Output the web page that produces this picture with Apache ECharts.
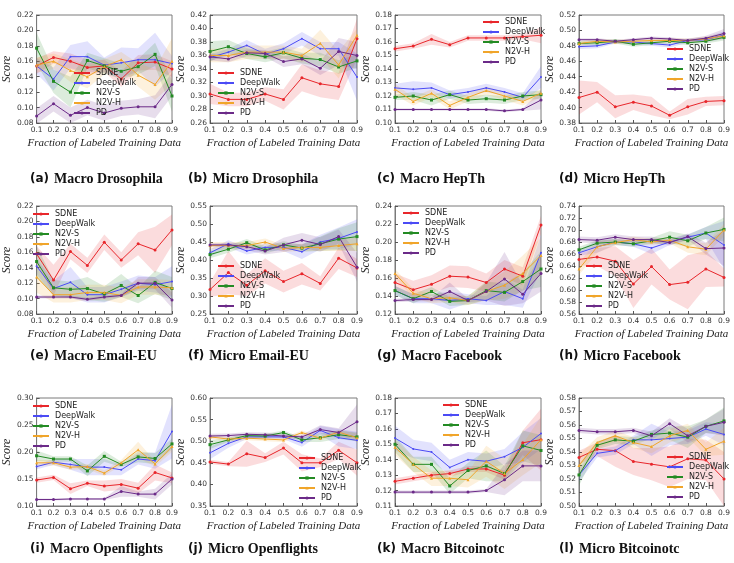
<!DOCTYPE html>
<html>
<head>
<meta charset="utf-8">
<script src="https://cdn.jsdelivr.net/npm/echarts@6/dist/echarts.min.js"></script>
<style>
  html, body { margin: 0; padding: 0; background: #fff; }
  #chart { width: 734px; height: 563px; }
</style>
</head>
<body>
<div id="chart"></div>
<script>
// 方法名和横轴刻度
const methods = ['SDNE', 'DeepWalk', 'N2V-S', 'N2V-H', 'PD'];
const xTicks = ['0.1', '0.2', '0.3', '0.4', '0.5', '0.6', '0.7', '0.8', '0.9'];

// 每个子图: 均值 (SDNE, DeepWalk, N2V-S, N2V-H, PD) 和置信带半宽
const macroDrosophila = [
  [0.154, 0.165, 0.160, 0.152, 0.154, 0.137, 0.158, 0.159, 0.150],
  [0.154, 0.137, 0.166, 0.166, 0.155, 0.158, 0.162, 0.162, 0.157],
  [0.177, 0.134, 0.120, 0.161, 0.154, 0.147, 0.153, 0.169, 0.115],
  [0.155, 0.160, 0.148, 0.140, 0.153, 0.162, 0.142, 0.130, 0.160],
  [0.089, 0.105, 0.090, 0.100, 0.093, 0.099, 0.101, 0.101, 0.130]
];
const macroDrosophilaBand = [
  [0.010, 0.008, 0.010, 0.010, 0.008, 0.010, 0.010, 0.010, 0.010],
  [0.010, 0.015, 0.015, 0.020, 0.010, 0.020, 0.015, 0.035, 0.010],
  [0.020, 0.015, 0.020, 0.010, 0.010, 0.010, 0.010, 0.015, 0.020],
  [0.010, 0.010, 0.015, 0.015, 0.010, 0.010, 0.015, 0.020, 0.030],
  [0.010, 0.010, 0.010, 0.010, 0.010, 0.010, 0.010, 0.015, 0.015]
];

const microDrosophila = [
  [0.303, 0.295, 0.295, 0.303, 0.295, 0.327, 0.318, 0.314, 0.385],
  [0.357, 0.365, 0.375, 0.362, 0.370, 0.385, 0.370, 0.370, 0.328],
  [0.366, 0.373, 0.363, 0.358, 0.364, 0.356, 0.354, 0.343, 0.352],
  [0.360, 0.360, 0.365, 0.365, 0.365, 0.360, 0.378, 0.346, 0.390],
  [0.358, 0.355, 0.364, 0.363, 0.351, 0.355, 0.341, 0.366, 0.360]
];
const microDrosophilaBand = [
  [0.015, 0.010, 0.010, 0.010, 0.015, 0.020, 0.020, 0.020, 0.030],
  [0.005, 0.005, 0.008, 0.008, 0.008, 0.010, 0.010, 0.010, 0.035],
  [0.015, 0.010, 0.008, 0.008, 0.008, 0.008, 0.010, 0.010, 0.010],
  [0.010, 0.010, 0.010, 0.010, 0.010, 0.010, 0.020, 0.020, 0.010],
  [0.005, 0.005, 0.005, 0.005, 0.008, 0.008, 0.010, 0.020, 0.020]
];

const macroHepTh = [
  [0.155, 0.157, 0.162, 0.158, 0.163, 0.163, 0.163, 0.164, 0.165],
  [0.126, 0.125, 0.126, 0.121, 0.123, 0.126, 0.123, 0.119, 0.134],
  [0.119, 0.120, 0.117, 0.121, 0.117, 0.118, 0.117, 0.120, 0.121],
  [0.125, 0.116, 0.122, 0.113, 0.119, 0.124, 0.120, 0.116, 0.122],
  [0.110, 0.110, 0.110, 0.110, 0.110, 0.110, 0.109, 0.110, 0.117]
];
const macroHepThBand = [
  [0.002, 0.002, 0.004, 0.002, 0.002, 0.002, 0.002, 0.002, 0.006],
  [0.003, 0.006, 0.004, 0.003, 0.003, 0.003, 0.003, 0.003, 0.008],
  [0.002, 0.003, 0.004, 0.003, 0.003, 0.003, 0.003, 0.003, 0.003],
  [0.004, 0.003, 0.003, 0.003, 0.003, 0.003, 0.003, 0.003, 0.003],
  [0.001, 0.001, 0.001, 0.001, 0.001, 0.001, 0.001, 0.001, 0.007]
];

const microHepTh = [
  [0.413, 0.420, 0.401, 0.407, 0.402, 0.390, 0.401, 0.408, 0.409],
  [0.479, 0.480, 0.485, 0.485, 0.483, 0.481, 0.487, 0.488, 0.494],
  [0.483, 0.484, 0.486, 0.482, 0.484, 0.486, 0.484, 0.486, 0.491],
  [0.483, 0.486, 0.485, 0.486, 0.487, 0.487, 0.487, 0.489, 0.493],
  [0.488, 0.488, 0.486, 0.488, 0.490, 0.489, 0.487, 0.490, 0.496]
];
const microHepThBand = [
  [0.022, 0.013, 0.015, 0.010, 0.012, 0.005, 0.010, 0.006, 0.006],
  [0.003, 0.003, 0.002, 0.003, 0.003, 0.003, 0.003, 0.003, 0.005],
  [0.003, 0.003, 0.003, 0.003, 0.003, 0.003, 0.003, 0.003, 0.004],
  [0.003, 0.003, 0.003, 0.003, 0.003, 0.003, 0.003, 0.003, 0.004],
  [0.002, 0.002, 0.002, 0.002, 0.002, 0.002, 0.002, 0.003, 0.006]
];

const macroEmailEU = [
  [0.158, 0.124, 0.161, 0.143, 0.173, 0.150, 0.171, 0.163, 0.189],
  [0.142, 0.113, 0.121, 0.105, 0.105, 0.112, 0.120, 0.118, 0.122],
  [0.148, 0.114, 0.112, 0.113, 0.106, 0.117, 0.104, 0.121, 0.113],
  [0.128, 0.105, 0.105, 0.108, 0.108, 0.104, 0.115, 0.115, 0.114],
  [0.102, 0.102, 0.102, 0.099, 0.102, 0.104, 0.120, 0.120, 0.098]
];
const macroEmailEUBand = [
  [0.010, 0.020, 0.010, 0.010, 0.010, 0.010, 0.015, 0.030, 0.020],
  [0.010, 0.010, 0.020, 0.010, 0.010, 0.010, 0.010, 0.010, 0.020],
  [0.020, 0.010, 0.010, 0.015, 0.010, 0.015, 0.010, 0.015, 0.015],
  [0.020, 0.010, 0.010, 0.010, 0.010, 0.010, 0.010, 0.010, 0.010],
  [0.002, 0.002, 0.002, 0.002, 0.002, 0.002, 0.008, 0.008, 0.010]
];

const microEmailEU = [
  [0.318, 0.365, 0.330, 0.370, 0.340, 0.362, 0.335, 0.405, 0.378],
  [0.420, 0.445, 0.425, 0.435, 0.435, 0.423, 0.450, 0.460, 0.478],
  [0.415, 0.430, 0.448, 0.428, 0.442, 0.433, 0.445, 0.458, 0.465],
  [0.440, 0.440, 0.440, 0.450, 0.432, 0.435, 0.435, 0.440, 0.445],
  [0.442, 0.442, 0.437, 0.425, 0.442, 0.455, 0.443, 0.465, 0.380]
];
const microEmailEUBand = [
  [0.020, 0.060, 0.030, 0.035, 0.030, 0.030, 0.020, 0.030, 0.025],
  [0.010, 0.010, 0.010, 0.010, 0.010, 0.020, 0.020, 0.030, 0.035],
  [0.010, 0.010, 0.010, 0.010, 0.010, 0.010, 0.020, 0.030, 0.040],
  [0.010, 0.010, 0.010, 0.010, 0.010, 0.010, 0.010, 0.015, 0.020],
  [0.005, 0.005, 0.010, 0.010, 0.020, 0.020, 0.020, 0.020, 0.040]
];

const macroFacebook = [
  [0.155, 0.147, 0.153, 0.162, 0.161, 0.155, 0.170, 0.162, 0.219],
  [0.146, 0.137, 0.137, 0.135, 0.137, 0.135, 0.145, 0.137, 0.188],
  [0.146, 0.137, 0.145, 0.134, 0.135, 0.146, 0.144, 0.156, 0.170],
  [0.165, 0.143, 0.137, 0.138, 0.135, 0.145, 0.152, 0.165, 0.185],
  [0.135, 0.136, 0.136, 0.145, 0.135, 0.145, 0.159, 0.142, 0.165]
];
const macroFacebookBand = [
  [0.010, 0.010, 0.010, 0.012, 0.012, 0.010, 0.010, 0.010, 0.010],
  [0.005, 0.005, 0.005, 0.010, 0.005, 0.005, 0.015, 0.010, 0.020],
  [0.005, 0.005, 0.005, 0.005, 0.005, 0.010, 0.010, 0.010, 0.020],
  [0.005, 0.005, 0.005, 0.005, 0.005, 0.010, 0.015, 0.020, 0.020],
  [0.002, 0.002, 0.002, 0.010, 0.002, 0.010, 0.030, 0.010, 0.020]
];

const microFacebook = [
  [0.651, 0.655, 0.648, 0.610, 0.639, 0.609, 0.613, 0.635, 0.621],
  [0.662, 0.672, 0.680, 0.677, 0.670, 0.680, 0.688, 0.695, 0.675],
  [0.667, 0.678, 0.680, 0.677, 0.682, 0.688, 0.682, 0.695, 0.701],
  [0.635, 0.672, 0.679, 0.684, 0.680, 0.683, 0.672, 0.668, 0.700],
  [0.684, 0.683, 0.688, 0.684, 0.684, 0.679, 0.689, 0.669, 0.670]
];
const microFacebookBand = [
  [0.010, 0.015, 0.025, 0.040, 0.030, 0.025, 0.045, 0.030, 0.015],
  [0.005, 0.010, 0.005, 0.005, 0.010, 0.005, 0.005, 0.010, 0.040],
  [0.005, 0.005, 0.005, 0.005, 0.005, 0.010, 0.010, 0.010, 0.020],
  [0.010, 0.010, 0.005, 0.005, 0.005, 0.005, 0.010, 0.010, 0.010],
  [0.005, 0.005, 0.005, 0.005, 0.005, 0.005, 0.005, 0.010, 0.030]
];

const macroOpenflights = [
  [0.148, 0.153, 0.132, 0.142, 0.137, 0.140, 0.133, 0.162, 0.152],
  [0.173, 0.181, 0.177, 0.172, 0.172, 0.167, 0.187, 0.184, 0.238],
  [0.193, 0.187, 0.187, 0.165, 0.192, 0.177, 0.191, 0.188, 0.215],
  [0.180, 0.180, 0.172, 0.173, 0.161, 0.180, 0.204, 0.178, 0.210],
  [0.112, 0.112, 0.113, 0.113, 0.113, 0.127, 0.122, 0.122, 0.150]
];
const macroOpenflightsBand = [
  [0.005, 0.005, 0.010, 0.005, 0.010, 0.010, 0.010, 0.015, 0.010],
  [0.005, 0.005, 0.010, 0.015, 0.015, 0.010, 0.010, 0.015, 0.050],
  [0.010, 0.005, 0.005, 0.010, 0.010, 0.005, 0.010, 0.010, 0.010],
  [0.005, 0.005, 0.005, 0.005, 0.005, 0.005, 0.015, 0.005, 0.010],
  [0.002, 0.002, 0.002, 0.002, 0.002, 0.010, 0.005, 0.010, 0.010]
];

const microOpenflights = [
  [0.452, 0.447, 0.471, 0.462, 0.484, 0.450, 0.450, 0.479, 0.450],
  [0.473, 0.495, 0.510, 0.510, 0.510, 0.497, 0.525, 0.508, 0.502],
  [0.492, 0.503, 0.513, 0.512, 0.520, 0.503, 0.508, 0.515, 0.510],
  [0.510, 0.505, 0.507, 0.505, 0.503, 0.520, 0.507, 0.521, 0.508],
  [0.512, 0.513, 0.516, 0.515, 0.512, 0.510, 0.527, 0.520, 0.545]
];
const microOpenflightsBand = [
  [0.005, 0.005, 0.030, 0.010, 0.015, 0.020, 0.010, 0.020, 0.030],
  [0.015, 0.010, 0.005, 0.005, 0.005, 0.010, 0.010, 0.020, 0.020],
  [0.010, 0.005, 0.005, 0.005, 0.005, 0.005, 0.010, 0.010, 0.010],
  [0.005, 0.005, 0.005, 0.005, 0.005, 0.005, 0.005, 0.005, 0.010],
  [0.005, 0.005, 0.005, 0.005, 0.005, 0.005, 0.010, 0.010, 0.040]
];

const macroBitcoinotc = [
  [0.126, 0.128, 0.130, 0.131, 0.134, 0.134, 0.130, 0.151, 0.153],
  [0.154, 0.147, 0.145, 0.135, 0.140, 0.139, 0.142, 0.148, 0.157],
  [0.150, 0.137, 0.137, 0.123, 0.133, 0.136, 0.131, 0.149, 0.146],
  [0.148, 0.137, 0.128, 0.128, 0.127, 0.139, 0.131, 0.140, 0.153],
  [0.119, 0.119, 0.119, 0.119, 0.119, 0.120, 0.127, 0.136, 0.136]
];
const macroBitcoinotcBand = [
  [0.002, 0.002, 0.002, 0.002, 0.002, 0.002, 0.003, 0.008, 0.020],
  [0.008, 0.006, 0.006, 0.005, 0.005, 0.005, 0.005, 0.010, 0.010],
  [0.005, 0.005, 0.005, 0.005, 0.005, 0.010, 0.005, 0.010, 0.010],
  [0.005, 0.005, 0.005, 0.005, 0.005, 0.010, 0.010, 0.010, 0.015],
  [0.001, 0.001, 0.001, 0.001, 0.001, 0.001, 0.010, 0.010, 0.010]
];

const microBitcoinotc = [
  [0.536, 0.542, 0.541, 0.533, 0.531, 0.529, 0.535, 0.534, 0.520],
  [0.523, 0.539, 0.541, 0.549, 0.549, 0.550, 0.551, 0.557, 0.553],
  [0.523, 0.545, 0.549, 0.548, 0.553, 0.554, 0.551, 0.559, 0.563],
  [0.530, 0.547, 0.552, 0.547, 0.544, 0.552, 0.556, 0.542, 0.548],
  [0.556, 0.555, 0.555, 0.556, 0.552, 0.561, 0.552, 0.559, 0.562]
];
const microBitcoinotcBand = [
  [0.005, 0.005, 0.012, 0.010, 0.012, 0.015, 0.015, 0.015, 0.020],
  [0.005, 0.003, 0.003, 0.003, 0.012, 0.005, 0.005, 0.005, 0.008],
  [0.008, 0.003, 0.003, 0.003, 0.003, 0.005, 0.008, 0.005, 0.010],
  [0.008, 0.004, 0.004, 0.004, 0.005, 0.005, 0.005, 0.005, 0.010],
  [0.002, 0.002, 0.002, 0.002, 0.003, 0.004, 0.005, 0.005, 0.010]
];

const colors = ['#e8262b', '#4b4bf5', '#238b23', '#f0a52a', '#6b2a88'];
const symbols = ['circle', 'circle', 'rect', 'triangle', 'circle'];

// 子图布局: 位置、纵轴范围、图例位置、标题
const colLeft = [25, 210, 395, 579];
const colWidth = [147, 147, 146, 145];
const rowTop = [15, 206, 398];
const captionTop = [170, 347, 540];
const captionLeft = [30, 188, 377, 559];

const panels = [
  { tag: '(a)', name: 'Macro Drosophila', mean: macroDrosophila, band: macroDrosophilaBand, min: 0.08, max: 0.22, step: 0.02, lg: [73, 69] },
  { tag: '(b)', name: 'Micro Drosophila', mean: microDrosophila, band: microDrosophilaBand, min: 0.26, max: 0.42, step: 0.02, lg: [217, 69] },
  { tag: '(c)', name: 'Macro HepTh', mean: macroHepTh, band: macroHepThBand, min: 0.10, max: 0.18, step: 0.01, lg: [482, 18] },
  { tag: '(d)', name: 'Micro HepTh', mean: microHepTh, band: microHepThBand, min: 0.38, max: 0.52, step: 0.02, lg: [666, 45] },
  { tag: '(e)', name: 'Macro Email-EU', mean: macroEmailEU, band: macroEmailEUBand, min: 0.08, max: 0.22, step: 0.02, lg: [32, 210] },
  { tag: '(f)', name: 'Micro Email-EU', mean: microEmailEU, band: microEmailEUBand, min: 0.25, max: 0.55, step: 0.05, lg: [217, 262] },
  { tag: '(g)', name: 'Macro Facebook', mean: macroFacebook, band: macroFacebookBand, min: 0.12, max: 0.24, step: 0.02, lg: [402, 209] },
  { tag: '(h)', name: 'Micro Facebook', mean: microFacebook, band: microFacebookBand, min: 0.56, max: 0.74, step: 0.02, lg: [585, 262] },
  { tag: '(i)', name: 'Macro Openflights', mean: macroOpenflights, band: macroOpenflightsBand, min: 0.10, max: 0.30, step: 0.05, lg: [32, 402] },
  { tag: '(j)', name: 'Micro Openflights', mean: microOpenflights, band: microOpenflightsBand, min: 0.35, max: 0.60, step: 0.05, lg: [298, 454] },
  { tag: '(k)', name: 'Macro Bitcoinotc', mean: macroBitcoinotc, band: macroBitcoinotcBand, min: 0.11, max: 0.18, step: 0.01, lg: [442, 401] },
  { tag: '(l)', name: 'Micro Bitcoinotc', mean: microBitcoinotc, band: microBitcoinotcBand, min: 0.50, max: 0.58, step: 0.01, lg: [666, 453] }
];

const serif = '"Liberation Serif", "DejaVu Serif", serif';
const sans = '"DejaVu Sans", sans-serif';

let grid = [], xAxis = [], yAxis = [], series = [], legend = [], title = [];

panels.forEach(function (p, i) {
  const r = Math.floor(i / 4), c = i % 4;
  grid.push({
    left: colLeft[c], top: rowTop[r], width: colWidth[c], height: 108,
    show: true, borderColor: '#7a7a7a', borderWidth: 1, backgroundColor: '#fff'
  });
  xAxis.push({
    type: 'category', gridIndex: i, data: xTicks, boundaryGap: false,
    axisLine: { lineStyle: { color: '#7a7a7a' } },
    axisTick: { inside: true, length: 3, alignWithLabel: true, lineStyle: { color: '#555' } },
    axisLabel: { fontFamily: sans, fontSize: 7.5, color: '#333', margin: 3, interval: 0 },
    splitLine: { show: false },
    name: 'Fraction of Labeled Training Data', nameLocation: 'middle', nameGap: 15,
    nameTextStyle: { fontFamily: serif, fontStyle: 'italic', fontSize: 11, color: '#222' }
  });
  yAxis.push({
    type: 'value', gridIndex: i, min: p.min, max: p.max, interval: p.step,
    axisLine: { show: true, lineStyle: { color: '#7a7a7a' } },
    axisTick: { show: true, inside: true, length: 3, lineStyle: { color: '#555' } },
    axisLabel: { fontFamily: sans, fontSize: 7.5, color: '#333', margin: 3,
      formatter: function (v) { return v.toFixed(2); } },
    splitLine: { show: false },
    name: 'Score', nameLocation: 'middle', nameGap: 20,
    nameTextStyle: { fontFamily: serif, fontStyle: 'italic', fontSize: 12, color: '#222' }
  });

  methods.forEach(function (m, k) {
    const lower = p.mean[k].map(function (v, j) { return +(v - p.band[k][j]).toFixed(4); });
    const width = p.band[k].map(function (b) { return +(2 * b).toFixed(4); });
    const stackId = 'band-' + i + '-' + k;
    // 置信带: 下界透明 + 上下界差值的面积
    series.push({
      name: m + ' lo', type: 'line', xAxisIndex: i, yAxisIndex: i, data: lower,
      stack: stackId, symbol: 'none', silent: true, z: 1,
      lineStyle: { opacity: 0 }
    });
    series.push({
      name: m + ' band', type: 'line', xAxisIndex: i, yAxisIndex: i, data: width,
      stack: stackId, symbol: 'none', silent: true, z: 1,
      lineStyle: { opacity: 0 },
      areaStyle: { color: colors[k], opacity: 0.16 }
    });
    series.push({
      name: m, type: 'line', xAxisIndex: i, yAxisIndex: i, data: p.mean[k],
      symbol: symbols[k], symbolSize: k === 1 ? 2 : 3, z: 3,
      itemStyle: { color: colors[k] },
      lineStyle: { color: colors[k], width: 1 }
    });
  });

  legend.push({
    left: p.lg[0], top: p.lg[1], orient: 'vertical', padding: 0, itemGap: 2,
    itemWidth: 16, itemHeight: 4, data: methods, selectedMode: false,
    textStyle: { fontFamily: sans, fontSize: 8, color: '#222', padding: [0, 0, 0, 1] }
  });

  title.push({
    text: '{b|' + p.tag + '} {n|' + p.name + '}',
    left: captionLeft[c], top: captionTop[r], padding: 0,
    textStyle: {
      rich: {
        b: { fontFamily: sans, fontWeight: 'bold', fontSize: 12, color: '#111' },
        n: { fontFamily: serif, fontWeight: 'bold', fontSize: 14, color: '#111' }
      }
    }
  });
});

const myChart = echarts.init(document.getElementById('chart'));
myChart.setOption({
  animation: false,
  color: colors,
  title: title,
  legend: legend,
  grid: grid,
  xAxis: xAxis,
  yAxis: yAxis,
  series: series
});
</script>
</body>
</html>
